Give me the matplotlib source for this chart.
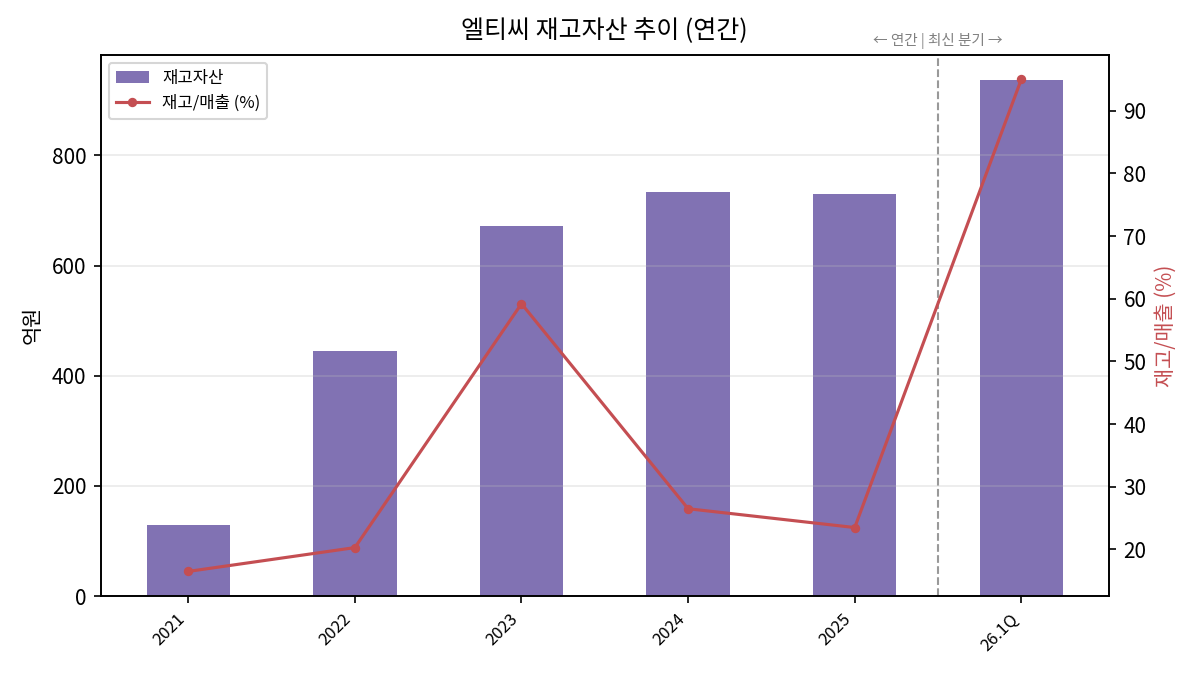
import matplotlib
matplotlib.use("Agg")
import matplotlib.pyplot as plt
import numpy as np

plt.rcParams['font.family'] = ['Noto Sans CJK KR', 'DejaVu Sans']
plt.rcParams['axes.unicode_minus'] = False

categories = ['2021', '2022', '2023', '2024', '2025', '26.1Q']
inventory = [129, 445, 671, 733, 729, 936]
inv_to_sales = [16.5, 20.3, 59.2, 26.5, 23.5, 95.0]

bar_color = '#8172B3'
line_color = '#C44E52'

fig, ax = plt.subplots(figsize=(8, 4.5), dpi=150)
x = np.arange(len(categories))
bars = ax.bar(x, inventory, width=0.5, color=bar_color, label='재고자산')
ax.set_ylabel('억원', fontsize=10)
ax.yaxis.grid(True, color='#bbbbbb', alpha=0.3, linewidth=0.8)
ax.set_xticks(x)
ax.set_xticklabels(categories, rotation=45, ha='right', fontsize=8)
ax.tick_params(axis='y', labelsize=10)

ax2 = ax.twinx()
line, = ax2.plot(x, inv_to_sales, color=line_color, marker='o', markersize=3.5,
                 linewidth=1.5, label='재고/매출 (%)')
ax2.set_ylabel('재고/매출 (%)', color=line_color, fontsize=10)
ax2.tick_params(axis='y', labelsize=10)

ax.axvline(4.5, color='gray', linestyle='--', linewidth=1, alpha=0.8)
ax.text(4.5, 1.01, '← 연간 | 최신 분기 →', transform=ax.get_xaxis_transform(),
        ha='center', va='bottom', fontsize=7, color='gray')

ax.set_title('엘티씨 재고자산 추이 (연간)', fontsize=12, pad=8)

ax.legend([bars, line], ['재고자산', '재고/매출 (%)'], loc='upper left', fontsize=8)

fig.subplots_adjust(left=0.084, right=0.924, top=0.919, bottom=0.117)
fig.savefig('out.png', dpi=150)
